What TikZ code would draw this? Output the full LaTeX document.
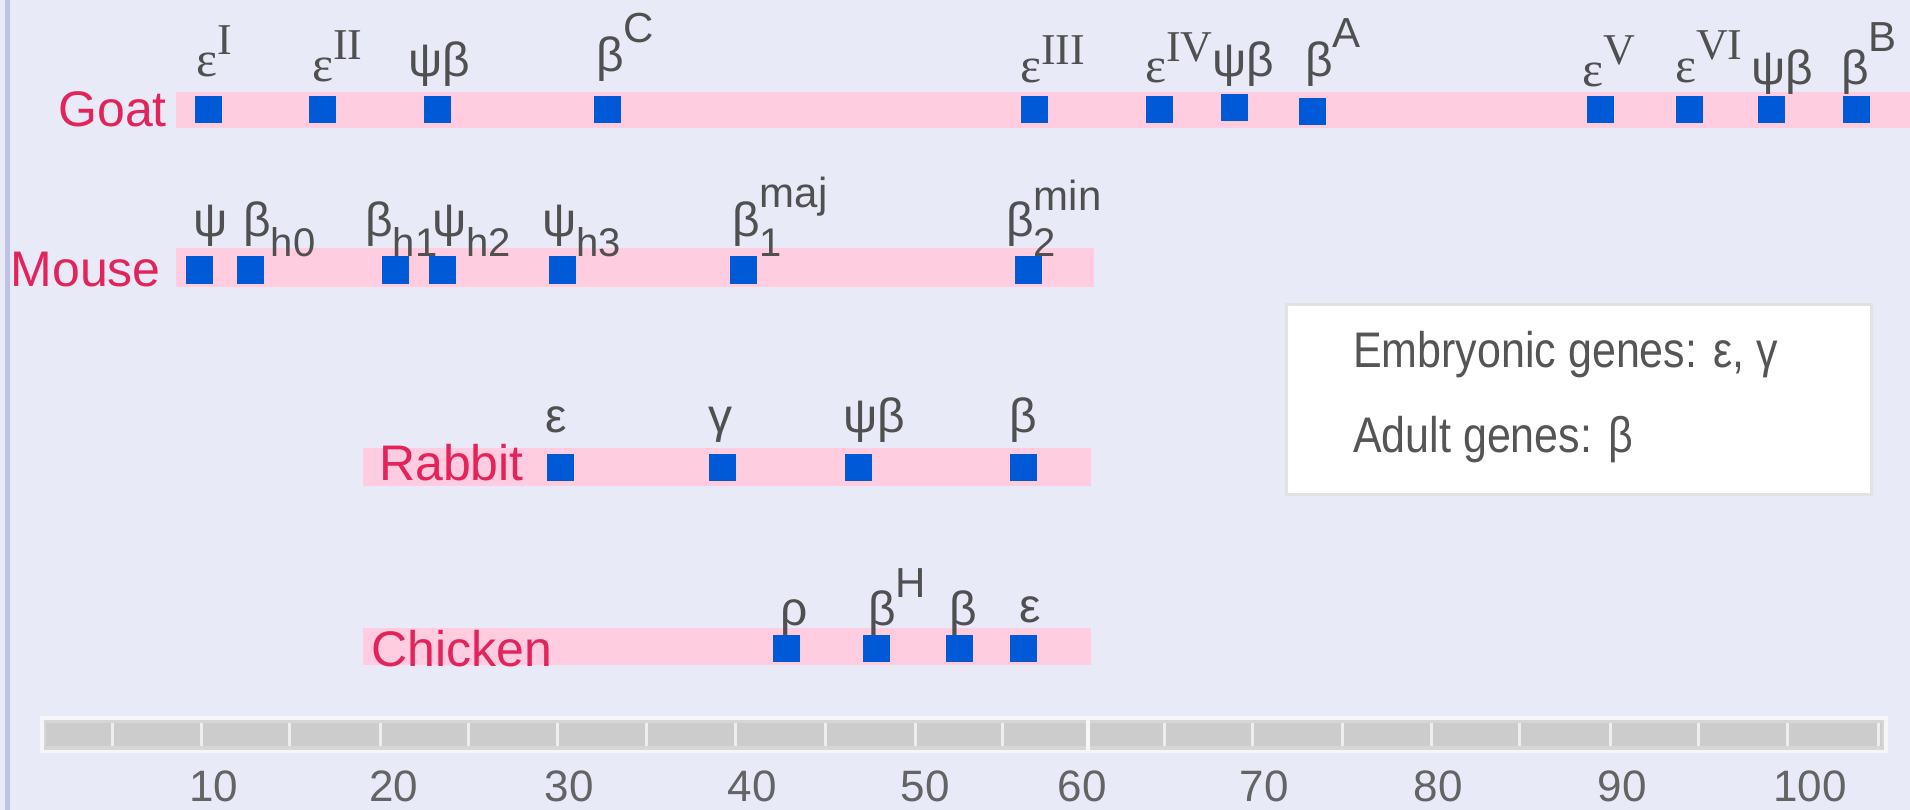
\documentclass[tikz,border=0pt]{standalone}
\usepackage{fontspec}
\setmainfont{Liberation Sans}
\newfontfamily\serifg{Liberation Serif}
\newfontfamily\legendf[FakeStretch=0.86]{Liberation Sans}
\newcommand\fsz[1]{\fontsize{#1}{#1}\selectfont}
\newcommand\gsup[2]{\raisebox{#1pt}{\fsz{42}#2}}
\newcommand\gsub[2]{\raisebox{-#1pt}{\fsz{40}#2}}
\newcommand\eroman[2]{{\serifg\fsz{50}ε}\raisebox{#1pt}{\serifg\fsz{44}#2}}
\definecolor{bg}{RGB}{232,234,248}
\definecolor{barpink}{RGB}{255,204,224}
\definecolor{sqblue}{RGB}{0,90,216}
\definecolor{spred}{RGB}{226,36,90}
\definecolor{lblgray}{RGB}{80,80,80}
\definecolor{leggray}{RGB}{85,85,85}
\definecolor{numgray}{RGB}{100,100,100}
\definecolor{edgeline}{RGB}{190,194,230}
\definecolor{legborder}{RGB}{226,226,226}
\definecolor{scaleout}{RGB}{246,246,248}
\definecolor{scalein}{RGB}{214,214,214}
\definecolor{scalecore}{RGB}{204,204,204}
\definecolor{tickcol}{RGB}{238,238,238}
\begin{document}
\begin{tikzpicture}[x=1pt,y=-1pt,
  bar/.style={fill=barpink,draw=none},
  sq/.style={fill=sqblue,draw=none,minimum size=27pt,inner sep=0pt},
  species/.style={text=spred,font=\fsz{50},inner sep=0pt},
  gene/.style={anchor=base west,text=lblgray,font=\fsz{48},inner sep=0pt},
  legtext/.style={anchor=base west,text=leggray,font=\legendf\fsz{50},inner sep=0pt},
  num/.style={anchor=base,text=numgray,font=\fsz{44},inner sep=0pt},
  tickline/.style={draw=tickcol,line width=3pt}]
\useasboundingbox (0,0) rectangle (1910,810);
\fill[bg] (0,0) rectangle (1910,810);
\fill[edgeline] (5,0) rectangle (10,810);
% bars
\fill[bar] (176,92) rectangle (1910,128);
\fill[bar] (176,248) rectangle (1094,287);
\fill[bar] (363,448) rectangle (1091,486);
\fill[bar] (363,628) rectangle (1091,665);
% species labels
\node[species,anchor=base east] (goat) at (167,127) {Goat};
\node[species,anchor=base east] (mouse) at (161,286) {Mouse};
\node[species,anchor=base west] (rabbit) at (379,480) {Rabbit};
\node[species,anchor=base west] (chicken) at (371,666) {Chicken};
% squares
\foreach \x/\y [count=\i] in {208/110,322/110,437/110,607/110,1034/110,1159/110,1234/108,1312/112,1600/110,1689/110,1771/110,1856/110}
  \node[sq] (gs\i) at (\x,\y) {};
\foreach \x [count=\i] in {199,250,395,442,562,743,1028}
  \node[sq] (ms\i) at (\x,270) {};
\foreach \x [count=\i] in {560,722,858,1023}
  \node[sq] (rs\i) at (\x,467) {};
\foreach \x [count=\i] in {786,876,959,1023}
  \node[sq] (cs\i) at (\x,648) {};
% goat labels
\node[gene] (g1) at (196,77) {\eroman{22}{I}};
\node[gene] (g2) at (312,82) {\eroman{22}{II}};
\node[gene] (g3) at (408,77) {ψβ};
\node[gene] (g4) at (596,72) {β\gsup{29}{C}};
\node[gene] (g5) at (1020,83) {\eroman{18}{III}};
\node[gene] (g6) at (1145,83) {\eroman{21}{IV}};
\node[gene] (g7) at (1212,77) {ψβ};
\node[gene] (g8) at (1305,77) {β\gsup{29}{A}};
\node[gene] (g9) at (1582,87) {\eroman{22}{V}};
\node[gene] (g10) at (1675,83) {\eroman{23}{VI}};
\node[gene] (g11) at (1751,85) {ψβ};
\node[gene] (g12) at (1841,85) {β\gsup{33}{B}};
% mouse labels
\node[gene] (m1) at (193,237) {ψ};
\node[gene] (m2) at (243,237) {β\gsub{20}{h0}};
\node[gene] (m3) at (365,237) {β\gsub{20}{h1}};
\node[gene] (m4) at (432,237) {ψ\gsub{20}{h2}};
\node[gene] (m5) at (542,237) {ψ\gsub{20}{h3}};
\node[gene] (m6) at (732,237) {β\rlap{\gsub{20}{1}}\gsup{29}{maj}};
\node[gene] (m7) at (1006,237) {β\rlap{\gsub{20}{2}}\gsup{27}{min}};
% rabbit labels
\node[gene] (r1) at (545,432) {ε};
\node[gene] (r2) at (708,432) {γ};
\node[gene] (r3) at (843,432) {ψβ};
\node[gene] (r4) at (1009,432) {β};
% chicken labels
\node[gene] (c1) at (780,625) {ρ};
\node[gene] (c2) at (868,625) {β\gsup{28}{H}};
\node[gene] (c3) at (949,625) {β};
\node[gene] (c4) at (1019,622) {ε};
% legend
\draw[fill=white,draw=legborder,line width=3pt] (1286,304) rectangle (1871,494);
\node[legtext] (leg1) at (1353,367) {Embryonic genes: ε, γ};
\node[legtext] (leg2) at (1353,452) {Adult genes: β};
% scale bar
\fill[scaleout] (40,716) rectangle (1888,753);
\fill[scalein] (44,720) rectangle (1884,750);
\fill[scalecore] (46,723) rectangle (1882,746);
\foreach \t in {112,201,289,380,468,557,646,735,825,915,1002,1164,1252,1342,1431,1519,1610,1698,1787,1878}
  \draw[tickline] (\t,723) -- (\t,746);
\draw[draw=scaleout,line width=4pt] (1088,716) -- (1088,753);
\foreach \v/\x in {10/214,20/394,30/569,40/752,50/925,60/1082,70/1264,80/1438,90/1622,100/1810}
  \node[num] (n\v) at (\x,801) {\v};
\end{tikzpicture}
\end{document}
